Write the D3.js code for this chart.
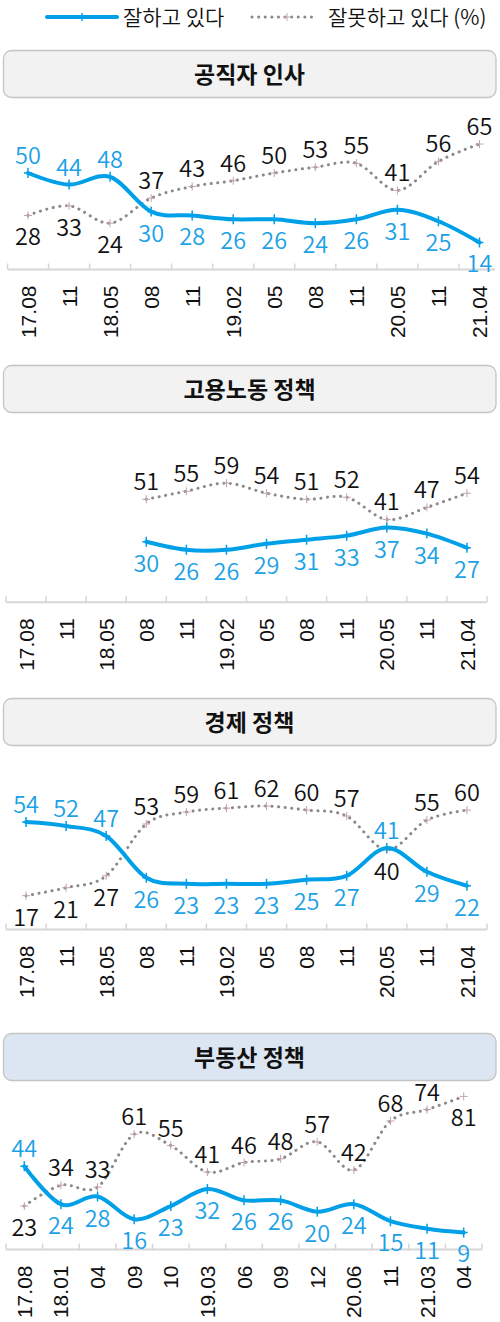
<!DOCTYPE html>
<html>
<head>
<meta charset="utf-8">
<script src="https://cdn.jsdelivr.net/npm/d3@7/dist/d3.min.js"></script>
<style>
  html, body { margin: 0; padding: 0; background: #fff; }
  svg { display: block; }
</style>
</head>
<body>
<svg id="chart" width="500" height="1322"></svg>
<script>
// ---------------- data ----------------
const legendLabels = ["잘하고 있다", "잘못하고 있다 (%)"];
const panelTitles = ["공직자 인사", "고용노동 정책", "경제 정책", "부동산 정책"];

const categoriesA = ["17.08", "11", "18.05", "08", "11", "19.02", "05", "08", "11", "20.05", "11", "21.04"];
const categoriesB = ["17.08", "18.01", "04", "09", "10", "19.03", "06", "09", "12", "20.06", "11", "21.03", "04"];

const personnelGood = [50, 44, 48, 30, 28, 26, 26, 24, 26, 31, 25, 14];
const personnelBad  = [28, 33, 24, 37, 43, 46, 50, 53, 55, 41, 56, 65];

const laborGood = [null, null, null, 30, 26, 26, 29, 31, 33, 37, 34, 27];
const laborBad  = [null, null, null, 51, 55, 59, 54, 51, 52, 41, 47, 54];

const economyGood = [54, 52, 47, 26, 23, 23, 23, 25, 27, 41, 29, 22];
const economyBad  = [17, 21, 27, 53, 59, 61, 62, 60, 57, 40, 55, 60];

const realEstateGood = [44, 24, 28, 16, 23, 32, 26, 26, 20, 24, 15, 11, 9];
const realEstateBad  = [23, 34, 33, 61, 55, 41, 46, 48, 57, 42, 68, 74, 81];

// ---------------- layout / style ----------------
const BLUE = "#00a0e9";
const BLUE_TEXT = "#1ba1e6";
const GRAY = "#8a8a8a";
const LABEL_FONT = "'Noto Sans CJK KR', 'Noto Sans', sans-serif";
const TICK_FONT = "'Liberation Sans', Arial, sans-serif";

const panels = [
  { title: panelTitles[0], cats: categoriesA, good: personnelGood, bad: personnelBad,
    headerY: 50, axisY: 269.5, unit: 1.93, x0: 7.5, x1: 500, lineEnd: 495, fill: "#f2f2f2" },
  { title: panelTitles[1], cats: categoriesA, good: laborGood, bad: laborBad,
    headerY: 365, axisY: 602.3, unit: 2.02, x0: 6, x1: 487, lineEnd: 487, fill: "#f2f2f2" },
  { title: panelTitles[2], cats: categoriesA, good: economyGood, bad: economyBad,
    headerY: 698, axisY: 929.5, unit: 1.99, x0: 6, x1: 487, lineEnd: 487, fill: "#f2f2f2" },
  { title: panelTitles[3], cats: categoriesB, good: realEstateGood, bad: realEstateBad,
    headerY: 1033, axisY: 1249.5, unit: 1.89, x0: 6, x1: 482, lineEnd: 482, fill: "#dce6f2" }
];
const HEADER_H = 47;

const svg = d3.select("#chart");

// ---------------- legend ----------------
const legend = svg.append("g");
const legX = d3.scaleLinear().domain([0, 1]).range([47, 117]);
legend.append("line").attr("x1", legX(0)).attr("x2", legX(1)).attr("y1", 17).attr("y2", 17)
  .attr("stroke", BLUE).attr("stroke-width", 4).attr("stroke-linecap", "round");
legend.append("line").attr("x1", 82).attr("x2", 82).attr("y1", 13).attr("y2", 21)
  .attr("stroke", BLUE).attr("stroke-width", 1.5);
legend.append("text").attr("x", 123).attr("y", 17).attr("dy", "0.36em")
  .attr("font-family", LABEL_FONT).attr("font-size", 21).attr("font-weight", 350).attr("fill", "#111")
  .text(legendLabels[0]);
legend.append("line").attr("x1", 252).attr("x2", 318).attr("y1", 17).attr("y2", 17)
  .attr("stroke", GRAY).attr("stroke-width", 3).attr("stroke-linecap", "round")
  .attr("stroke-dasharray", "0.1 6.5");
legend.append("path").attr("d", "M283,17H291M287,13V21")
  .attr("stroke", "#c9a9a9").attr("stroke-width", 1);
legend.append("text").attr("x", 328).attr("y", 17).attr("dy", "0.36em")
  .attr("font-family", LABEL_FONT).attr("font-size", 21).attr("font-weight", 350).attr("fill", "#111")
  .text(legendLabels[1]);

// ---------------- panels ----------------
panels.forEach(p => {
  const g = svg.append("g");
  // header
  g.append("rect").attr("x", 3.5).attr("y", p.headerY + 0.5)
    .attr("width", 492.5).attr("height", HEADER_H).attr("rx", 8).attr("ry", 8)
    .attr("fill", p.fill).attr("stroke", "#c4c4c4").attr("stroke-width", 1.3);
  g.append("text").attr("x", 249.5).attr("y", p.headerY + HEADER_H / 2 + 1).attr("dy", "0.36em")
    .attr("text-anchor", "middle").attr("font-family", LABEL_FONT).attr("font-weight", 700)
    .attr("font-size", 23).attr("fill", "#111").text(p.title);

  const idx = p.cats.map((c, i) => i);
  const x = d3.scaleBand().domain(idx).range([p.x0, p.x1]).padding(0);
  const y = d3.scaleLinear().domain([0, 100]).range([p.axisY, p.axisY - 100 * p.unit]);
  const cx = i => x(i) + x.bandwidth() / 2;

  // axis line + ticks at band boundaries
  g.append("line").attr("x1", p.x0).attr("x2", p.lineEnd).attr("y1", p.axisY).attr("y2", p.axisY)
    .attr("stroke", "#d6d6d6").attr("stroke-width", 2);
  const bounds = idx.map(i => x(i)).concat([p.x1]).filter(b => b <= p.lineEnd + 0.5);
  g.selectAll(".tk").data(bounds).join("line")
    .attr("x1", d => d).attr("x2", d => d)
    .attr("y1", p.axisY).attr("y2", p.axisY - 6)
    .attr("stroke", "#d6d6d6").attr("stroke-width", 1.5);

  // tick labels (rotated)
  g.selectAll(".tl").data(idx).join("text")
    .attr("transform", i => `translate(${cx(i)},${p.axisY + 16}) rotate(-90)`)
    .attr("dy", "0.36em").attr("text-anchor", "end")
    .attr("font-family", TICK_FONT).attr("font-size", 21).attr("fill", "#111")
    .text(i => p.cats[i]);

  const curve = d3.curveCardinal.tension(0);
  const goodPts = idx.filter(i => p.good[i] != null);
  const badPts = idx.filter(i => p.bad[i] != null);

  // bad (gray dotted) line
  g.append("path")
    .attr("d", d3.line().x(i => cx(i)).y(i => y(p.bad[i])).curve(curve)(badPts))
    .attr("fill", "none").attr("stroke", GRAY).attr("stroke-width", 3)
    .attr("stroke-linecap", "round").attr("stroke-dasharray", "0.1 6.5");
  g.selectAll(".bm").data(badPts).join("path")
    .attr("d", i => `M${cx(i) - 4},${y(p.bad[i])}H${cx(i) + 4}M${cx(i)},${y(p.bad[i]) - 4}V${y(p.bad[i]) + 4}`)
    .attr("stroke", "#c4a4a4").attr("stroke-width", 1);

  // good (blue) line
  g.append("path")
    .attr("d", d3.line().x(i => cx(i)).y(i => y(p.good[i])).curve(curve)(goodPts))
    .attr("fill", "none").attr("stroke", BLUE).attr("stroke-width", 4)
    .attr("stroke-linejoin", "round").attr("stroke-linecap", "round");
  g.selectAll(".gm").data(goodPts).join("path")
    .attr("d", i => `M${cx(i) - 4},${y(p.good[i])}H${cx(i) + 4}M${cx(i)},${y(p.good[i]) - 5}V${y(p.good[i]) + 5}`)
    .attr("stroke", BLUE).attr("stroke-width", 1.5);

  // labels
  const headerBottom = p.headerY + HEADER_H;
  const place = (v, other, isGood) => {
    let above;
    if (other == null) above = !isGood;
    else above = isGood ? v >= other : v > other;
    const py = y(v);
    if (above && py - 17.5 - 9 < headerBottom + 2) above = false;
    return above ? py - 17.5 : py + 21.5;
  };
  g.selectAll(".bl").data(badPts).join("text")
    .attr("x", i => cx(i)).attr("y", i => place(p.bad[i], p.good[i], false)).attr("dy", "0.36em")
    .attr("text-anchor", "middle").attr("font-family", LABEL_FONT).attr("font-size", 23.5)
    .attr("font-weight", 350).attr("fill", "#111").text(i => p.bad[i]);
  g.selectAll(".gl").data(goodPts).join("text")
    .attr("x", i => cx(i)).attr("y", i => place(p.good[i], p.bad[i], true)).attr("dy", "0.36em")
    .attr("text-anchor", "middle").attr("font-family", LABEL_FONT).attr("font-size", 23.5)
    .attr("font-weight", 350).attr("fill", BLUE_TEXT).text(i => p.good[i]);
});
</script>
</body>
</html>
